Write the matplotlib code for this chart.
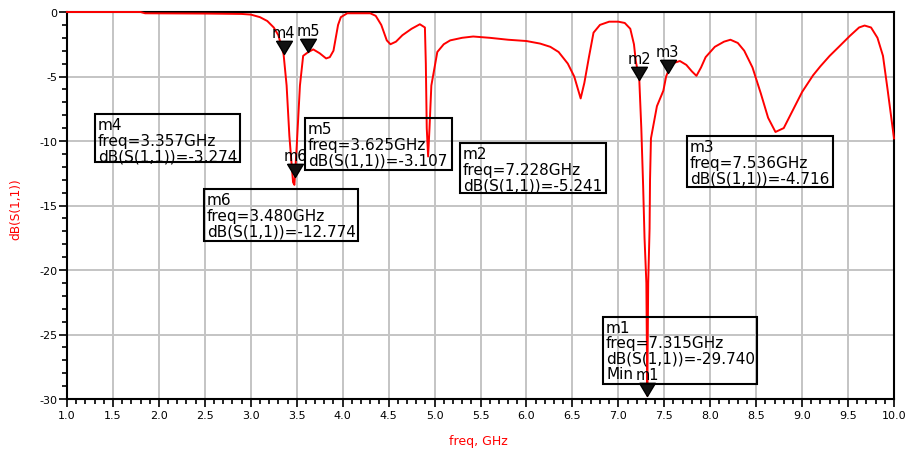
import matplotlib
matplotlib.use("Agg")
import matplotlib.pyplot as plt
from matplotlib.patches import Rectangle
from matplotlib.ticker import MultipleLocator

# ---- data ----
freq_ghz = [1.0, 1.8, 1.85, 2.5, 2.9, 3.0, 3.1, 3.18, 3.25, 3.3, 3.357,
            3.39, 3.42, 3.46, 3.475, 3.48, 3.50, 3.535, 3.57, 3.625,
            3.68, 3.75, 3.82, 3.86, 3.9, 3.95, 3.98, 4.05, 4.3, 4.36,
            4.42, 4.48, 4.52, 4.58, 4.65, 4.75, 4.84, 4.895, 4.905,
            4.915, 4.93, 4.945, 4.965, 5.03, 5.1, 5.17, 5.3, 5.42, 5.6,
            5.8, 6.0, 6.15, 6.26, 6.35, 6.45, 6.52, 6.59, 6.63, 6.68,
            6.73, 6.8, 6.9, 7.0, 7.07, 7.13, 7.17, 7.19, 7.228, 7.25,
            7.27, 7.285, 7.305, 7.315, 7.325, 7.34, 7.345, 7.355, 7.42,
            7.49, 7.52, 7.536, 7.58, 7.67, 7.74, 7.80, 7.85, 7.9, 7.95,
            8.05, 8.15, 8.22, 8.3, 8.37, 8.46, 8.55, 8.63, 8.71, 8.8,
            8.9, 9.0, 9.12, 9.2, 9.3, 9.4, 9.52, 9.62, 9.68, 9.75, 9.82,
            9.88, 9.93, 10.0]
s11_db = [0.0, 0.0, -0.1, -0.12, -0.15, -0.2, -0.4, -0.7, -1.2, -1.8, -3.274,
          -5.7, -9.6, -13.2, -13.4, -12.774, -10.4, -5.7, -3.4, -3.107,
          -2.9, -3.2, -3.6, -3.5, -3.0, -1.0, -0.4, -0.1, -0.1, -0.3,
          -1.0, -2.2, -2.5, -2.3, -1.8, -1.3, -0.95, -1.2, -4.0,
          -9.0, -11.2, -9.0, -5.7, -3.1, -2.5, -2.2, -2.0, -1.9, -2.0,
          -2.15, -2.25, -2.45, -2.7, -3.1, -4.0, -5.0, -6.7, -5.5, -3.5,
          -1.6, -1.0, -0.75, -0.75, -0.85, -1.3, -2.5, -3.8, -5.241, -9.0,
          -13.5, -17.5, -21.0, -29.74, -21.0, -16.8, -13.0, -9.8, -7.3,
          -6.1, -5.0, -4.716, -4.0, -3.8, -4.1, -4.6, -4.95, -4.3, -3.5,
          -2.7, -2.3, -2.15, -2.4, -3.0, -4.3, -6.3, -8.2, -9.3, -9.0,
          -7.6, -6.2, -4.9, -4.2, -3.4, -2.7, -1.85, -1.2, -1.05, -1.2, -2.0,
          -3.4, -6.0, -9.8]

marker_names = ["m4", "m5", "m6", "m2", "m3", "m1"]
marker_freq = [3.357, 3.625, 3.480, 7.228, 7.536, 7.315]
marker_db = [-3.274, -3.107, -12.774, -5.241, -4.716, -29.740]
marker_extra = ["", "", "", "", "", "Min"]

x_ticks = [1.0, 1.5, 2.0, 2.5, 3.0, 3.5, 4.0, 4.5, 5.0, 5.5, 6.0, 6.5,
           7.0, 7.5, 8.0, 8.5, 9.0, 9.5, 10.0]
y_ticks = [0, -5, -10, -15, -20, -25, -30]

# ---- layout ----
W, H = 907, 452
fig = plt.figure(figsize=(W / 100, H / 100), dpi=100)
plt.rcParams['font.family'] = ['DejaVu Sans']

def fx(px):
    return px / W

def fy(py):
    return 1 - py / H

ax = fig.add_axes([fx(67), fy(400), fx(894) - fx(67), fy(13) - fy(400)])
ax.set_xlim(1.0, 10.0)
ax.set_ylim(-30, 0)

ax.plot(freq_ghz, s11_db, color="#ff0000", lw=1.4, zorder=3, clip_on=False)

ax.set_xticks(x_ticks)
ax.set_xticklabels([f"{v:.1f}" for v in x_ticks])
ax.set_yticks(y_ticks)
ax.set_yticklabels([f"{v:d}" for v in y_ticks])
ax.xaxis.set_minor_locator(MultipleLocator(0.1))
ax.yaxis.set_minor_locator(MultipleLocator(1))
ax.tick_params(axis="both", which="major", direction="out", width=1.2,
               labelsize=8, color="black")
ax.tick_params(axis="x", which="major", length=6, pad=2)
ax.tick_params(axis="y", which="major", length=6, pad=1)
ax.tick_params(axis="x", which="minor", direction="out", length=3.5, width=1.2)
ax.tick_params(axis="y", which="minor", direction="out", length=3.5, width=1.2)
ax.grid(True, which="major", color="#c4c4c4", lw=1.4, zorder=0)
for sp in ax.spines.values():
    sp.set_linewidth(1.5)
    sp.set_color("black")

fig.text(fx(478), fy(442), "freq, GHz", color="#ff0000", fontsize=9,
         ha="center", va="center")
fig.text(fx(16), fy(209), "dB(S(1,1))", color="#ff0000", fontsize=8.7,
         ha="center", va="center", rotation=90)

# marker triangles (tip at the data point)
tri = [(-0.6, 1.0), (0.6, 1.0), (0.0, 0.0), (-0.6, 1.0)]
for name, f, d in zip(marker_names, marker_freq, marker_db):
    ax.plot([f], [d], marker=tri, markersize=19, markerfacecolor="#111111",
            markeredgecolor="black", markeredgewidth=1.0, ls="none",
            zorder=5, clip_on=False)
    ax.annotate(name, xy=(f, d), xytext=(0, 14), textcoords="offset pixels",
                ha="center", va="bottom", fontsize=10.5, color="black",
                zorder=6, annotation_clip=False)

# marker readout boxes (pixel positions in the figure)
boxes = {
    "m4": (95, 115, 240, 163),
    "m5": (305, 119, 452, 171),
    "m6": (204, 190, 358, 242),
    "m2": (460, 144, 606, 194),
    "m3": (687, 137, 833, 188),
    "m1": (603, 318, 757, 385),
}
for name, f, d, extra in zip(marker_names, marker_freq, marker_db, marker_extra):
    x0, y0, x1, y1 = boxes[name]
    fig.add_artist(Rectangle((fx(x0), fy(y1)), fx(x1) - fx(x0), fy(y0) - fy(y1),
                             transform=fig.transFigure, fill=False,
                             edgecolor="black", lw=1.5, zorder=4))
    lines = [name, f"freq={f:.3f}GHz", f"dB(S(1,1))={d:.3f}"]
    if extra:
        lines.append(extra)
    step = 16 if len(lines) == 3 else 15.5
    for i, line in enumerate(lines):
        fig.text(fx(x0 + 3), fy(y0 + 15 + i * step), line, fontsize=11,
                 ha="left", va="baseline", color="black", zorder=6)

fig.savefig("out.png", dpi=100)
